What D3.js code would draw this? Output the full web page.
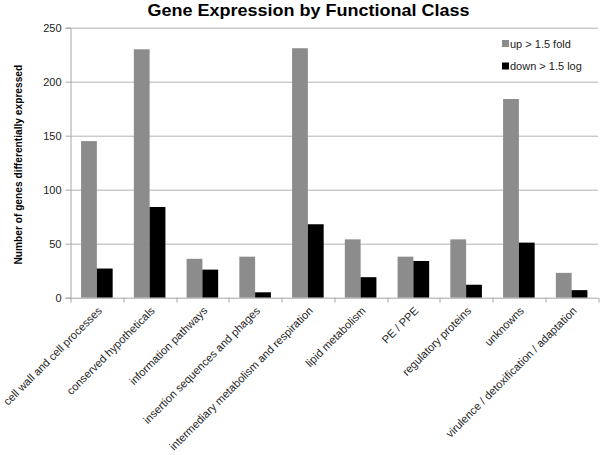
<!DOCTYPE html>
<html>
<head>
<meta charset="utf-8">
<script src="https://cdn.jsdelivr.net/npm/d3@7"></script>
<style>
  body { margin: 0; background: #fff; }
  text { font-family: "Liberation Sans", Arial, sans-serif; }
</style>
</head>
<body>
<svg id="chart" width="600" height="455"></svg>
<script>
const classes = [
  "cell wall and cell processes",
  "conserved hypotheticals",
  "information pathways",
  "insertion sequences and phages",
  "intermediary metabolism and respiration",
  "lipid metabolism",
  "PE / PPE",
  "regulatory proteins",
  "unknowns",
  "virulence / detoxification / adaptation"
];
const upValues = [145, 230, 36, 38, 231, 54, 38, 54, 184, 23];
const downValues = [27, 84, 26, 5, 68, 19, 34, 12, 51, 7];
const seriesNames = ["up > 1.5 fold", "down > 1.5 log"];
const seriesColors = ["#8c8c8c", "#000000"];
const yTicks = [0, 50, 100, 150, 200, 250];

const margin = {top: 27.7, left: 70.5, right: 2, bottom: 157.3};
const W = 600 - margin.left - margin.right;
const H = 455 - margin.top - margin.bottom;

const svg = d3.select("#chart");

// title
svg.append("text")
  .attr("x", 308.5)
  .attr("y", 16)
  .attr("text-anchor", "middle")
  .attr("textLength", 322)
  .attr("lengthAdjust", "spacingAndGlyphs")
  .style("font-size", "17px")
  .style("font-weight", "bold")
  .text("Gene Expression by Functional Class");

// y label
svg.append("text")
  .attr("transform", "translate(22," + (margin.top + H / 2 + 2) + ") rotate(-90)")
  .attr("text-anchor", "middle")
  .style("font-size", "10.2px")
  .style("font-weight", "bold")
  .text("Number of genes differentially expressed");

const g = svg.append("g")
  .attr("transform", "translate(" + margin.left + "," + margin.top + ")");

const x0 = d3.scaleBand().domain(classes).range([0, W]);
const xi = d3.scaleBand().domain(seriesNames).range([0, x0.bandwidth()]).paddingOuter(0.67);
const y = d3.scaleLinear().domain([0, 250]).range([H, 0]);

// gridlines
g.selectAll(".grid")
  .data(yTicks.slice(1))
  .enter()
  .append("line")
  .attr("x1", 0)
  .attr("x2", W)
  .attr("y1", d => Math.round(y(d)) + 0.5)
  .attr("y2", d => Math.round(y(d)) + 0.5)
  .attr("stroke", "#b3b3b3")
  .attr("stroke-width", 1);

// y axis
const yAxis = g.append("g")
  .call(d3.axisLeft(y).tickValues(yTicks).tickSize(5).tickPadding(4));
yAxis.select(".domain").attr("stroke", "#a6a6a6");
yAxis.selectAll(".tick line").attr("stroke", "#a6a6a6");
yAxis.selectAll(".tick text")
  .style("font-size", "11px")
  .attr("fill", "#222");

// bars
const table = classes.map((c, i) => ({cls: c, values: [upValues[i], downValues[i]]}));

const groups = g.selectAll(".grp")
  .data(table)
  .enter()
  .append("g")
  .attr("transform", d => "translate(" + x0(d.cls) + ",0)");

groups.selectAll("rect")
  .data(d => d.values.map((v, k) => ({series: seriesNames[k], value: v, color: seriesColors[k]})))
  .enter()
  .append("rect")
  .attr("x", d => xi(d.series))
  .attr("width", xi.bandwidth())
  .attr("y", d => y(d.value))
  .attr("height", d => H - y(d.value))
  .attr("fill", d => d.color);

// x axis line and boundary ticks
g.append("line")
  .attr("x1", 0).attr("x2", W)
  .attr("y1", H + 0.5).attr("y2", H + 0.5)
  .attr("stroke", "#a6a6a6");

const bounds = classes.map(c => x0(c)).concat([W]);
g.selectAll(".xtick")
  .data(bounds)
  .enter()
  .append("line")
  .attr("x1", d => Math.round(d) + 0.5)
  .attr("x2", d => Math.round(d) + 0.5)
  .attr("y1", H)
  .attr("y2", H + 5)
  .attr("stroke", "#a6a6a6");

// x labels
g.selectAll(".xlabel")
  .data(classes)
  .enter()
  .append("text")
  .attr("transform", d => "translate(" + (x0(d) + x0.bandwidth() / 2 + 3) + "," + (H + 11) + ") rotate(-45)")
  .attr("text-anchor", "end")
  .attr("dy", "0.35em")
  .style("font-size", "11.1px")
  .attr("fill", "#222")
  .text(d => d);

// legend
const legend = svg.append("g")
  .attr("transform", "translate(502,40)");
const items = legend.selectAll("g")
  .data(seriesNames)
  .enter()
  .append("g")
  .attr("transform", (d, i) => "translate(0," + i * 22.5 + ")");
items.append("rect")
  .attr("width", 7)
  .attr("height", 7)
  .attr("fill", (d, i) => seriesColors[i]);
items.append("text")
  .attr("x", 8)
  .attr("y", 7.5)
  .style("font-size", "11px")
  .attr("fill", "#222")
  .text(d => d);
</script>
</body>
</html>
